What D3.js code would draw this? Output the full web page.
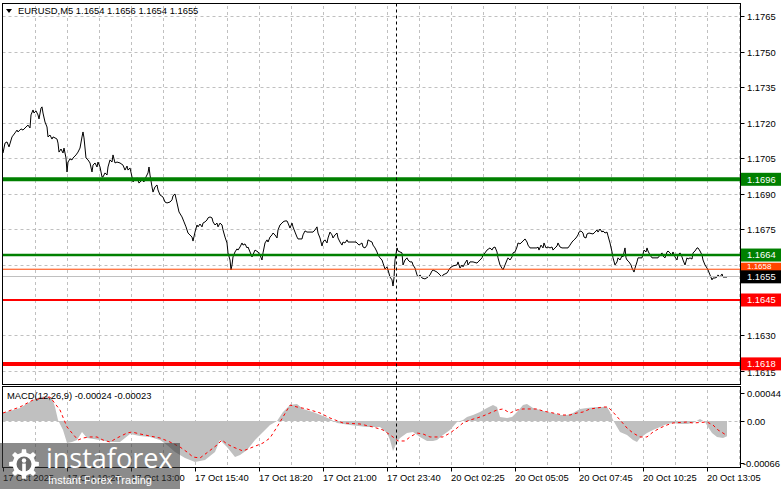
<!DOCTYPE html>
<html><head><meta charset="utf-8">
<script src="https://cdn.jsdelivr.net/npm/d3@7"></script>
<style>
html,body{margin:0;padding:0;background:#fff;}
svg{display:block;font-family:"Liberation Sans",Arial,sans-serif;}
</style></head><body>
<svg id="chart" width="781" height="489"></svg>
<script>
// ---------- data ----------
const symbolTitle = "EURUSD,M5  1.1654 1.1656 1.1654 1.1655";
const macdTitle = "MACD(12,26,9) -0.00024 -0.00023";
const timeLabels = ["17 Oct 2025","17 Oct 10:20","17 Oct 13:00","17 Oct 15:40","17 Oct 18:20","17 Oct 21:00","17 Oct 23:40","20 Oct 02:25","20 Oct 05:05","20 Oct 07:45","20 Oct 10:25","20 Oct 13:05"];
const timeLabelBars = [0,32,64,96,128,160,192,224,256,288,320,352];
const gridBars = [16,32,48,64,80,96,112,128,144,160,176,192,208,224,240,256,272,288,304,320,336,352,368];
const priceTicks = [1.1765,1.1750,1.1735,1.1720,1.1705,1.1690,1.1675,1.1660,1.1645,1.1630,1.1615];
const macdTicks = [0.00044,0,-0.00066];
const macdTickLabels = ["0.00044","0.00","-0.00066"];
const levelPrices = [1.1696,1.1664,1.1658,1.1645,1.1618];
const bidPrice = 1.1655;
const separatorBar = 196.5;
// [bar index, close]
const closeSeries = [[0,1.17071],[1,1.17113],[2,1.17118],[3,1.17097],[4.5,1.17139],[6,1.17156],[7,1.17168],[7.5,1.17160],[9,1.17173],[10,1.17168],[11.5,1.17181],[12.5,1.17189],[13.5,1.17177],[14,1.17232],[15,1.17253],[15.5,1.17240],[16.5,1.17249],[17.5,1.17232],[18,1.17215],[19,1.17261],[19.5,1.17266],[20,1.17240],[21,1.17202],[22,1.17181],[22.5,1.17139],[23.5,1.17147],[24.5,1.17130],[25,1.17139],[26,1.17135],[27,1.17130],[27.5,1.17113],[28,1.17075],[29,1.17088],[30,1.17071],[30.5,1.17092],[31.5,1.17050],[32,1.16991],[32.5,1.17033],[33.5,1.17046],[34.5,1.17042],[35,1.17050],[36.5,1.17063],[37.5,1.17075],[38.5,1.17092],[39.5,1.17139],[40,1.17160],[40.5,1.17135],[41.5,1.17050],[42.5,1.17042],[43.5,1.17029],[44.5,1.16991],[45,1.17020],[46,1.17029],[47,1.17012],[47.5,1.17033],[48.5,1.17012],[49.5,1.16970],[50,1.16970],[51,1.16987],[52,1.16978],[52.5,1.17012],[53.5,1.17042],[54.5,1.17033],[55,1.17063],[56,1.17029],[57,1.17033],[58.5,1.17029],[60,1.17020],[61,1.16999],[62,1.17016],[62.5,1.16999],[63.5,1.17008],[64.5,1.16970],[65,1.16949],[67,1.16966],[68,1.16944],[69.5,1.16957],[70.5,1.16949],[71.5,1.16970],[72.5,1.16987],[73,1.17012],[73.5,1.16978],[74.5,1.16928],[75,1.16906],[76,1.16928],[77,1.16936],[77.5,1.16915],[78.5,1.16894],[80,1.16885],[81,1.16864],[82,1.16860],[83.5,1.16864],[84.5,1.16873],[85,1.16890],[86,1.16898],[87,1.16860],[88,1.16822],[89.5,1.16801],[90.5,1.16780],[91.5,1.16759],[92.5,1.16733],[94.5,1.16716],[95,1.16699],[96,1.16737],[97,1.16767],[97.5,1.16759],[98.5,1.16771],[99.5,1.16759],[100,1.16775],[101,1.16780],[102,1.16788],[102.5,1.16797],[103.5,1.16801],[104.5,1.16797],[105,1.16780],[106,1.16767],[107,1.16775],[107.5,1.16759],[108.5,1.16775],[109.5,1.16767],[110,1.16746],[111,1.16716],[112,1.16691],[112.5,1.16649],[113.5,1.16619],[114,1.16577],[114.5,1.16598],[115,1.16632],[116,1.16653],[117,1.16666],[117.5,1.16661],[118.5,1.16674],[119.5,1.16691],[120,1.16682],[121,1.16687],[122,1.16670],[122.5,1.16674],[123.5,1.16653],[124.5,1.16632],[126,1.16661],[127.5,1.16653],[128.5,1.16640],[129.5,1.16619],[130,1.16649],[131,1.16691],[132,1.16704],[132.5,1.16695],[133.5,1.16716],[134.5,1.16725],[135,1.16733],[136,1.16725],[137,1.16712],[137.5,1.16746],[138.5,1.16767],[139.5,1.16775],[140,1.16780],[141,1.16784],[142,1.16784],[142.5,1.16775],[143.5,1.16754],[144.5,1.16775],[145,1.16759],[146,1.16737],[147,1.16716],[147.5,1.16708],[149.5,1.16708],[150,1.16725],[151,1.16742],[152,1.16737],[155,1.16737],[156,1.16746],[157,1.16759],[157.5,1.16733],[158.5,1.16712],[159.5,1.16678],[160,1.16695],[161,1.16704],[162,1.16691],[162.5,1.16712],[163.5,1.16737],[164.5,1.16725],[165,1.16712],[166,1.16725],[167,1.16733],[167.5,1.16712],[168.5,1.16695],[169.5,1.16682],[170,1.16695],[171,1.16691],[172,1.16704],[172.5,1.16695],[176.5,1.16695],[177,1.16691],[178,1.16682],[179.5,1.16691],[180,1.16674],[181,1.16670],[182,1.16682],[182.5,1.16704],[183.5,1.16699],[184.5,1.16695],[185,1.16682],[186,1.16670],[187,1.16653],[187.5,1.16640],[188.5,1.16628],[189.5,1.16619],[190,1.16606],[191,1.16581],[192,1.16590],[192.5,1.16577],[193.5,1.16547],[194.5,1.16535],[195,1.16509],[195.5,1.16543],[196,1.16619],[197,1.16670],[197.5,1.16657],[198.5,1.16653],[199.5,1.16649],[200,1.16598],[201,1.16619],[202,1.16628],[202.5,1.16619],[203.5,1.16611],[204.5,1.16611],[205,1.16598],[206,1.16585],[207,1.16556],[207.5,1.16547],[208.5,1.16556],[209.5,1.16543],[211,1.16539],[212.5,1.16547],[213.5,1.16556],[214.5,1.16573],[215,1.16577],[217,1.16568],[218.5,1.16556],[219.5,1.16547],[220,1.16556],[222,1.16564],[223.5,1.16585],[225,1.16594],[227,1.16598],[227.5,1.16611],[228.5,1.16585],[229.5,1.16598],[230,1.16590],[231,1.16606],[232,1.16619],[232.5,1.16598],[233.5,1.16611],[235,1.16611],[237,1.16606],[237.5,1.16611],[238.5,1.16619],[239.5,1.16628],[240,1.16640],[241,1.16649],[242,1.16661],[243.5,1.16670],[244.5,1.16661],[245,1.16670],[246,1.16674],[247,1.16653],[247.5,1.16628],[248.5,1.16598],[250,1.16577],[251,1.16598],[252,1.16619],[252.5,1.16628],[253.5,1.16619],[254.5,1.16632],[255,1.16649],[256,1.16653],[257,1.16674],[257.5,1.16691],[258.5,1.16687],[259.5,1.16695],[260,1.16699],[261,1.16708],[262,1.16695],[262.5,1.16682],[263.5,1.16670],[267,1.16670],[267.5,1.16674],[268,1.16661],[269,1.16682],[270,1.16670],[270.5,1.16691],[271.5,1.16670],[272.5,1.16674],[273.5,1.16670],[274.5,1.16674],[275,1.16661],[276,1.16670],[277,1.16678],[277.5,1.16691],[278.5,1.16674],[279.5,1.16670],[282.5,1.16670],[283.5,1.16682],[284.5,1.16695],[285.5,1.16704],[286.5,1.16712],[287.5,1.16725],[288,1.16737],[289,1.16742],[290,1.16733],[290.5,1.16716],[291.5,1.16712],[292,1.16729],[293,1.16733],[295,1.16729],[296,1.16737],[297,1.16746],[297.5,1.16737],[298.5,1.16750],[299.5,1.16737],[300,1.16742],[301,1.16733],[302,1.16737],[302.5,1.16721],[303.5,1.16691],[304.5,1.16653],[305,1.16628],[306,1.16598],[307,1.16611],[307.5,1.16628],[308.5,1.16619],[309.5,1.16636],[310,1.16632],[311,1.16670],[311.5,1.16628],[312,1.16619],[313,1.16611],[314,1.16598],[314.5,1.16585],[315.5,1.16568],[316,1.16585],[317,1.16611],[317.5,1.16628],[319.5,1.16628],[320.5,1.16661],[321.5,1.16653],[322,1.16670],[322.5,1.16657],[323.5,1.16640],[324.5,1.16628],[327.5,1.16628],[328.5,1.16640],[329.5,1.16649],[330,1.16636],[331,1.16628],[332,1.16653],[332.5,1.16657],[333.5,1.16649],[334.5,1.16640],[335,1.16653],[336,1.16632],[337,1.16619],[337.5,1.16640],[338.5,1.16649],[339.5,1.16632],[340,1.16619],[341,1.16598],[342,1.16628],[342.5,1.16623],[343.5,1.16628],[344.5,1.16623],[345,1.16649],[346,1.16657],[347,1.16670],[347.5,1.16670],[348.5,1.16657],[349.5,1.16640],[350,1.16619],[351,1.16598],[352,1.16585],[352.5,1.16577],[353.5,1.16556],[354.5,1.16535],[355,1.16543],[356,1.16543],[357,1.16547],[357.5,1.16556],[358.5,1.16547],[359.5,1.16560],[360,1.16547],[361,1.16547],[362,1.16547]];
// [bar index, MACD main]
const macdSeries = [[0,0.000126],[8.5,0.000204],[15,0.000330],[18.5,0.000377],[22,0.000393],[24.5,0.000361],[26,0.000220],[27.5,0.000016],[30,-0.000141],[32,-0.000346],[34.5,-0.000330],[37,-0.000299],[39.5,-0.000173],[42,-0.000267],[48.5,-0.000299],[53.5,-0.000330],[58.5,-0.000330],[63.5,-0.000204],[68.5,-0.000236],[73.5,-0.000251],[78.5,-0.000299],[82,-0.000377],[86,-0.000487],[91,-0.000581],[96,-0.000644],[101,-0.000613],[106,-0.000487],[108.5,-0.000299],[112,-0.000409],[116,-0.000566],[118.5,-0.000534],[122,-0.000456],[126,-0.000299],[130,-0.000173],[133.5,-0.000063],[137,0],[140,0.000141],[143.5,0.000251],[147,0.000267],[150,0.000189],[155,0.000141],[160,0.000079],[163.5,0.000031],[167,-0.000031],[173.5,-0.000063],[182,-0.000094],[188.5,-0.000094],[192,-0.000189],[193.5,-0.000299],[195,-0.000471],[197,-0.000330],[198.5,-0.000267],[202,-0.000189],[205,-0.000173],[208.5,-0.000251],[212,-0.000314],[215,-0.000314],[217,-0.000299],[220,-0.000220],[223.5,-0.000141],[227,-0.000016],[230,0.000016],[232,0.000063],[235,0.000094],[238.5,0.000141],[242,0.000204],[245,0.000251],[247,0.000220],[248.5,0.000063],[252,0.000047],[254.5,0.000063],[257,0.000141],[260,0.000251],[262,0.000267],[265,0.000204],[268.5,0.000173],[272,0.000141],[275,0.000126],[278.5,0.000094],[282,0.000094],[285,0.000126],[288.5,0.000189],[292,0.000204],[297,0.000220],[302,0.000220],[303.5,0.000141],[305,0.000016],[307,-0.000094],[308.5,-0.000173],[312,-0.000220],[315,-0.000299],[317,-0.000330],[318.5,-0.000267],[322,-0.000189],[325,-0.000141],[328.5,-0.000094],[332,-0.000047],[335,-0.000031],[338.5,-0.000047],[342,-0.000047],[345,-0.000031],[348.5,0.000031],[351,-0.000016],[352.5,-0.000094],[354.5,-0.000189],[357,-0.000251],[360,-0.000267],[362,-0.00024]];
// [bar index, signal]
const signalSeries = [[0,0.000126],[8.5,0.000220],[15,0.000330],[23.5,0.000377],[28.5,0.000173],[32,-0.000094],[34.5,-0.000189],[37.5,-0.000299],[40,-0.000267],[43.5,-0.000251],[47,-0.000251],[50,-0.000299],[53.5,-0.000330],[57,-0.000267],[62,-0.000189],[64.5,-0.000173],[68.5,-0.000204],[73.5,-0.000236],[78.5,-0.000267],[83.5,-0.000330],[88.5,-0.000409],[92,-0.000487],[95,-0.000566],[98.5,-0.000581],[102.5,-0.000487],[107,-0.000377],[109.5,-0.000299],[112,-0.000361],[115,-0.000409],[120,-0.000471],[125,-0.000409],[130,-0.000346],[133.5,-0.000267],[137,-0.000094],[140,0.000063],[143.5,0.000251],[147,0.000220],[152,0.000189],[158.5,0.000126],[163.5,0.000047],[170,-0.000031],[178.5,-0.000047],[185,-0.000094],[190,-0.000141],[195,-0.000251],[197.5,-0.000314],[201,-0.000314],[203.5,-0.000251],[207,-0.000189],[210,-0.000204],[213.5,-0.000251],[220,-0.000251],[223.5,-0.000189],[227,-0.000110],[230,-0.000031],[233.5,0.000016],[237,0.000047],[240,0.000079],[243.5,0.000126],[247,0.000173],[250,0.000189],[253.5,0.000126],[257,0.000173],[260,0.000189],[267,0.000189],[270,0.000157],[275,0.000126],[280,0.000094],[283.5,0.000094],[287,0.000126],[290,0.000141],[293.5,0.000189],[297,0.000204],[300,0.000220],[302.5,0.000220],[305,0.000141],[308.5,0.000016],[312,-0.000110],[315,-0.000189],[318.5,-0.000251],[322,-0.000251],[325,-0.000173],[328.5,-0.000110],[332,-0.000063],[335,-0.000031],[342,-0.000016],[345,-0.000031],[352,-0.000016],[355,-0.000063],[357.5,-0.000141],[360,-0.000189],[362,-0.00023]];

// ---------- layout & styles ----------
const L = 2.5, R = 740.5, T = 3.5, mainB = 384.5, macdT = 386.5, macdB = 467.5;
const levelStyle = [
  {color:"#008000", width:4, box:"#008000"},
  {color:"#008000", width:2.5, box:"#008000"},
  {color:"#FF4500", width:1, box:"#FF4500"},
  {color:"#FF0000", width:2, box:"#FF0000"},
  {color:"#FF0000", width:4, box:"#FF0000"}
];
const gridColor = "#c0c0c0";
const fontSize = "9.4px";

const svg = d3.select("#chart");
const x = d3.scaleLinear().domain([0, 368.5]).range([3, 740]);
const y = d3.scaleLinear().domain([1.1615, 1.1765]).range([371, 16]);
const ym = d3.scaleLinear().domain([-0.00066, 0.00044]).range([463, 393]);

svg.append("rect").attr("width",781).attr("height",489).attr("fill","#fff");

const defs = svg.append("defs");
defs.append("clipPath").attr("id","cMain").append("rect").attr("x",L).attr("y",T).attr("width",R-L).attr("height",mainB-T);
defs.append("clipPath").attr("id","cMacd").append("rect").attr("x",L).attr("y",macdT).attr("width",R-L).attr("height",macdB-macdT);

// grid
const gMain = svg.append("g").attr("clip-path","url(#cMain)");
const gMacd = svg.append("g").attr("clip-path","url(#cMacd)");
gMain.selectAll(".hg").data(priceTicks).enter().append("line")
  .attr("x1",L).attr("x2",R).attr("y1",d=>Math.round(y(d))+0.5).attr("y2",d=>Math.round(y(d))+0.5)
  .attr("stroke",gridColor).attr("stroke-dasharray","3,3");
[gMain, gMacd].forEach(g=>{
  g.selectAll(".vg").data(gridBars).enter().append("line")
    .attr("x1",d=>Math.round(x(d))+0.5).attr("x2",d=>Math.round(x(d))+0.5)
    .attr("y1",0).attr("y2",489)
    .attr("stroke",gridColor).attr("stroke-dasharray","3,3");
});
gMacd.append("line").attr("x1",L).attr("x2",R).attr("y1",Math.round(ym(0))+0.5).attr("y2",Math.round(ym(0))+0.5)
  .attr("stroke",gridColor).attr("stroke-dasharray","3,3");

// MACD histogram (filled from zero)
gMacd.append("path").datum(macdSeries)
  .attr("d", d3.area().x(d=>x(d[0])).y0(ym(0)).y1(d=>ym(d[1])))
  .attr("fill","#c0c0c0");
// signal line
gMacd.append("path").datum(signalSeries)
  .attr("d", d3.line().x(d=>x(d[0])).y(d=>ym(d[1])))
  .attr("fill","none").attr("stroke","#ff0000").attr("stroke-width",1).attr("stroke-dasharray","3,3");

// price line
gMain.append("path").datum(closeSeries)
  .attr("d", d3.line().x(d=>x(d[0])).y(d=>y(d[1])))
  .attr("fill","none").attr("stroke","#000").attr("stroke-width",1);

// bid line
gMain.append("line").attr("x1",L).attr("x2",R).attr("y1",Math.round(y(bidPrice))+0.5).attr("y2",Math.round(y(bidPrice))+0.5)
  .attr("stroke","#c0c0c0").attr("stroke-width",1);

// level lines
levelPrices.forEach((p,i)=>{
  const s = levelStyle[i];
  gMain.append("line").attr("x1",L).attr("x2",R).attr("y1",y(p)).attr("y2",y(p))
    .attr("stroke",s.color).attr("stroke-width",s.width);
});

// separator
svg.append("line").attr("x1",Math.round(x(separatorBar))+0.5).attr("x2",Math.round(x(separatorBar))+0.5)
  .attr("y1",T).attr("y2",macdB).attr("stroke","#000").attr("stroke-dasharray","3,3");

// frames
const frame = svg.append("g").attr("fill","none").attr("stroke","#000").attr("stroke-width",1);
frame.append("rect").attr("x",L).attr("y",T).attr("width",R-L).attr("height",mainB-T);
frame.append("rect").attr("x",L).attr("y",macdT).attr("width",R-L).attr("height",macdB-macdT);

// right price axis (labels fully hidden behind level boxes are not drawn, as in the terminal)
const axR = svg.append("g").attr("font-size",fontSize).attr("fill","#000");
const covered = p => levelPrices.concat([bidPrice]).some(l => Math.abs(y(l)-y(p)) < 6);
priceTicks.forEach(p=>{
  const yy = Math.round(y(p))+0.5;
  axR.append("line").attr("x1",R).attr("x2",R+4).attr("y1",yy).attr("y2",yy).attr("stroke","#000");
  if (!covered(p)) axR.append("text").attr("x",747).attr("y",yy+ (p===1.1615?1.5:0)).attr("dy","0.35em").text(p.toFixed(4));
});
macdTicks.forEach((v,i)=>{
  const yy = Math.round(ym(v))+0.5;
  axR.append("line").attr("x1",R).attr("x2",R+4).attr("y1",yy).attr("y2",yy).attr("stroke","#000");
  axR.append("text").attr("x",i===2?743:747).attr("y",yy).attr("dy","0.35em").text(macdTickLabels[i]);
});

// level price boxes
[2,0,1,3,4].forEach(i=>{
  const p = levelPrices[i], s = levelStyle[i];
  const yy = y(p);
  axR.append("rect").attr("x",741).attr("y",yy-6.5).attr("width",40).attr("height",13).attr("fill",s.box);
  if (i !== 2) axR.append("text").attr("x",747).attr("y",yy).attr("dy","0.35em").attr("fill","#fff").text(p.toFixed(4));
  else axR.append("text").attr("x",747).attr("y",yy-3).attr("dy","0.35em").attr("fill","#fff").attr("font-size","8px").text(p.toFixed(4));
});
{
  const yy = y(bidPrice);
  axR.append("rect").attr("x",741).attr("y",yy-6).attr("width",40).attr("height",13).attr("fill","#000");
  axR.append("text").attr("x",747).attr("y",yy+0.5).attr("dy","0.35em").attr("fill","#fff").text(bidPrice.toFixed(4));
}

// time axis
const axB = svg.append("g").attr("font-size",fontSize).attr("fill","#000");
timeLabelBars.forEach((b,i)=>{
  const xx = Math.round(x(b))+0.5;
  axB.append("line").attr("x1",xx).attr("x2",xx).attr("y1",macdB).attr("y2",macdB+4).attr("stroke","#000");
  axB.append("text").attr("x",xx-0.5).attr("y",478).attr("dy","0.35em").text(timeLabels[i]);
});

// titles
svg.append("path").attr("d","M6,9 L12,9 L9,13 Z").attr("fill","#000");
svg.append("text").attr("x",18).attr("y",11).attr("dy","0.35em").attr("font-size",fontSize).text(symbolTitle);
svg.append("text").attr("x",7).attr("y",396).attr("dy","0.35em").attr("font-size",fontSize).text(macdTitle);

// watermark logo
const logo = svg.append("g");
logo.append("rect").attr("x",0).attr("y",443).attr("width",180).attr("height",46).attr("fill","rgba(55,55,55,0.58)");
const cx = 24, cy = 464, rOut = 15, rIn = 11.5, teeth = 8;
const pts = [];
for (let k=0;k<teeth;k++){
  const a0 = (k/teeth)*2*Math.PI - Math.PI/2;
  const w = Math.PI/teeth;
  const a = [a0-w*0.55, a0-w*0.35, a0+w*0.35, a0+w*0.55];
  pts.push([cx+rIn*Math.cos(a[0]), cy+rIn*Math.sin(a[0])]);
  pts.push([cx+rOut*Math.cos(a[1]), cy+rOut*Math.sin(a[1])]);
  pts.push([cx+rOut*Math.cos(a[2]), cy+rOut*Math.sin(a[2])]);
  pts.push([cx+rIn*Math.cos(a[3]), cy+rIn*Math.sin(a[3])]);
}
logo.append("path").attr("d","M"+pts.map(p=>p.join(",")).join("L")+"Z").attr("fill","#fff");
logo.append("circle").attr("cx",cx).attr("cy",cy).attr("r",7.5).attr("fill","#6a6a6a");
logo.append("circle").attr("cx",cx).attr("cy",cy-3.5).attr("r",2.2).attr("fill","#fff");
logo.append("rect").attr("x",cx-1.8).attr("y",cy-0.5).attr("width",3.6).attr("height",9).attr("fill","#fff");
logo.append("text").attr("x",46).attr("y",468).attr("font-family","'Open Sans',sans-serif").attr("font-size","27px").attr("fill","#fff").text("instaforex");
logo.append("text").attr("x",48).attr("y",484).attr("font-family","'Liberation Sans',Arial,sans-serif").attr("font-size","11px").attr("fill","#fff").text("Instant Forex Trading");
</script>
</body></html>
